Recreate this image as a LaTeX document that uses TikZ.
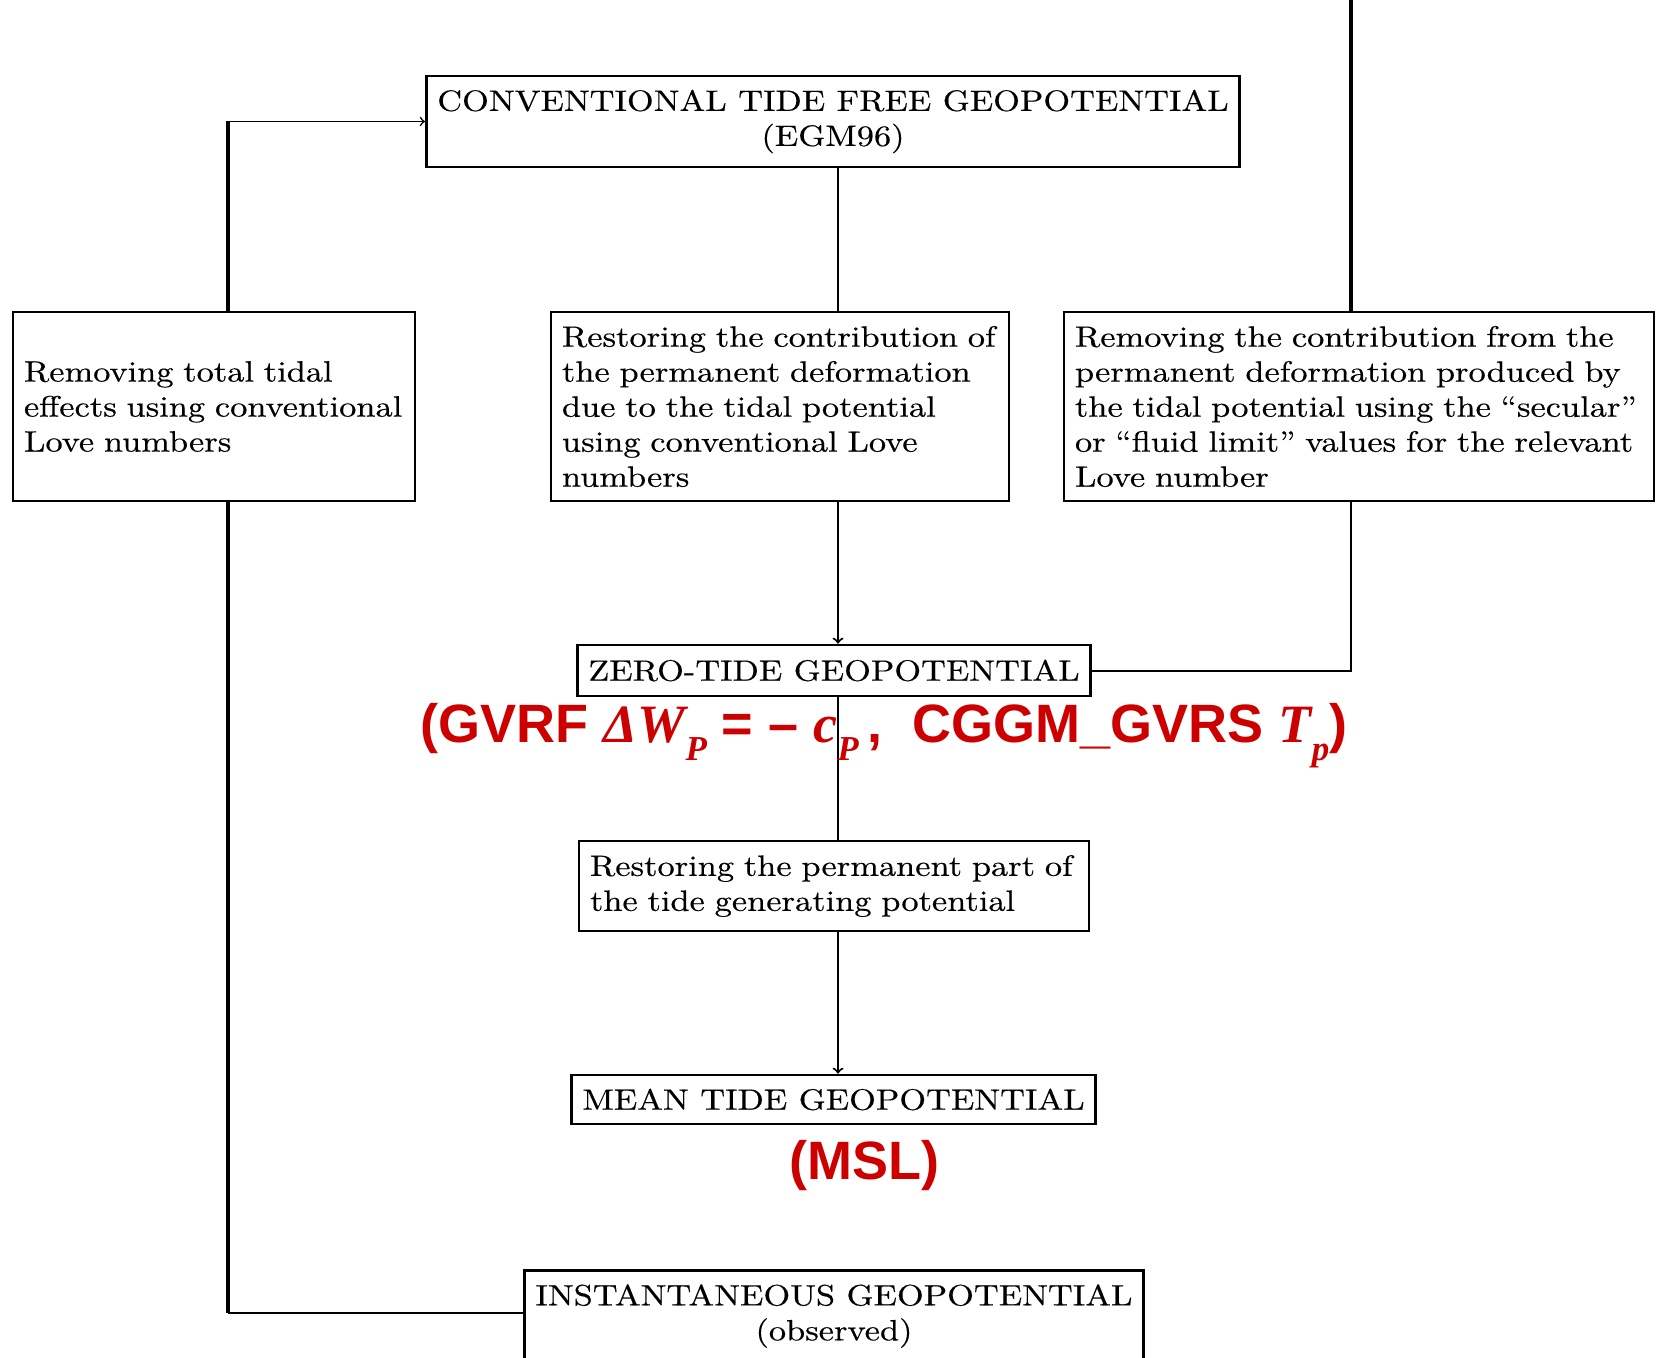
\documentclass[tikz,border=0pt]{standalone}
\usepackage{fontspec}
\usepackage{tikz}
\usetikzlibrary{arrows}
\newfontfamily\boxfont{lmroman10-regular.otf}[FakeStretch=1.17, FakeBold=0.4]
\newfontfamily\redsans{Liberation Sans}
\newfontfamily\redserif{Liberation Serif}
\definecolor{tidered}{RGB}{204,0,0}
\newcommand{\rsi}{\redserif\bfseries\itshape}
\newcommand{\redsub}[1]{\raisebox{-9pt}{\fontsize{17.5}{17.5}\selectfont #1}}

\begin{document}
\begin{tikzpicture}[x=0.5pt, y=-0.5pt,
        box/.style={draw, line width=1.3pt, inner xsep=5.5pt, inner ysep=0pt,
            font=\boxfont\fontsize{14.7}{17.5}\selectfont},
        capbox/.style={box, align=center},
        txtbox/.style={box, align=left},
        conn/.style={line width=1pt},
        bar/.style={line width=2pt},
        redlbl/.style={text=tidered, inner sep=0pt,
            font=\redsans\bfseries\fontsize{27}{30}\selectfont}]
        \useasboundingbox (0,0) rectangle (1658,1358);
        \coordinate (lcol) at (228,0);
        \coordinate (mcol) at (838,0);
        \coordinate (rtop) at (1351,0);
        \coordinate (lbot) at (228,1313);

        \node[capbox, minimum width=405pt, minimum height=45.5pt] (ctf) at (833,121.5)
            {CONVENTIONAL TIDE FREE GEOPOTENTIAL\\(EGM96)};
        \node[txtbox, text width=190pt, minimum height=94.5pt] (rmtot) at (214,406.5)
            {Removing total tidal\\effects using conventional\\Love numbers};
        \node[txtbox, text width=218pt, minimum height=94.5pt] (rsdef) at (780,406.5)
            {Restoring the contribution of\\the permanent deformation\\due to the tidal potential\\using conventional Love\\numbers};
        \node[txtbox, text width=284pt, minimum height=94.5pt] (rmdef) at (1359,406.5)
            {Removing the contribution from the\\permanent deformation produced by\\the tidal potential using the “secular”\\or “fluid limit” values for the relevant\\Love number};
        \node[capbox, minimum width=255pt, minimum height=25.5pt] (zero) at (834,670.5)
            {ZERO-TIDE GEOPOTENTIAL};
        \node[txtbox, text width=244pt, minimum height=45pt] (rsperm) at (834,886)
            {Restoring the permanent part of\\the tide generating potential};
        \node[capbox, minimum width=261.5pt, minimum height=24.5pt] (mean) at (833.5,1099.5)
            {MEAN TIDE GEOPOTENTIAL};
        \node[capbox, minimum width=309pt, anchor=north, inner ysep=7pt, text depth=40pt] (inst) at (834,1269)
            {INSTANTANEOUS GEOPOTENTIAL\\(observed)};

        % left branch
        \draw[bar] (rmtot.north -| lcol) -- (lcol |- ctf.west);
        \draw[conn, line width=0.8pt, ->] (lcol |- ctf.west) -- (ctf.west);
        \draw[bar] (rmtot.south -| lcol) -- (lbot);
        \draw[conn, line width=0.8pt] (lbot) -- (lbot -| inst.west);
        % middle branch
        \draw[conn] (ctf.south -| mcol) -- (rsdef.north -| mcol);
        \draw[conn, ->] (rsdef.south -| mcol) -- (zero.north -| mcol);
        \draw[conn] (zero.south -| mcol) -- (rsperm.north -| mcol);
        \draw[conn, ->] (rsperm.south -| mcol) -- (mean.north -| mcol);
        % right branch
        \draw[bar] (rtop) -- (rmdef.north -| rtop);
        \draw[conn] (rmdef.south -| rtop) |- (zero.east);

        \node[redlbl, anchor=base] (gvrf) at (884,742)
            {(GVRF {\rsi ΔW\redsub{P}} = – {\rsi c\redsub{P}}\,, \ CGGM\_GVRS {\rsi T\redsub{p}})};
        \node[redlbl, anchor=base] (msl) at (864,1179) {(MSL)};
\end{tikzpicture}
\end{document}
